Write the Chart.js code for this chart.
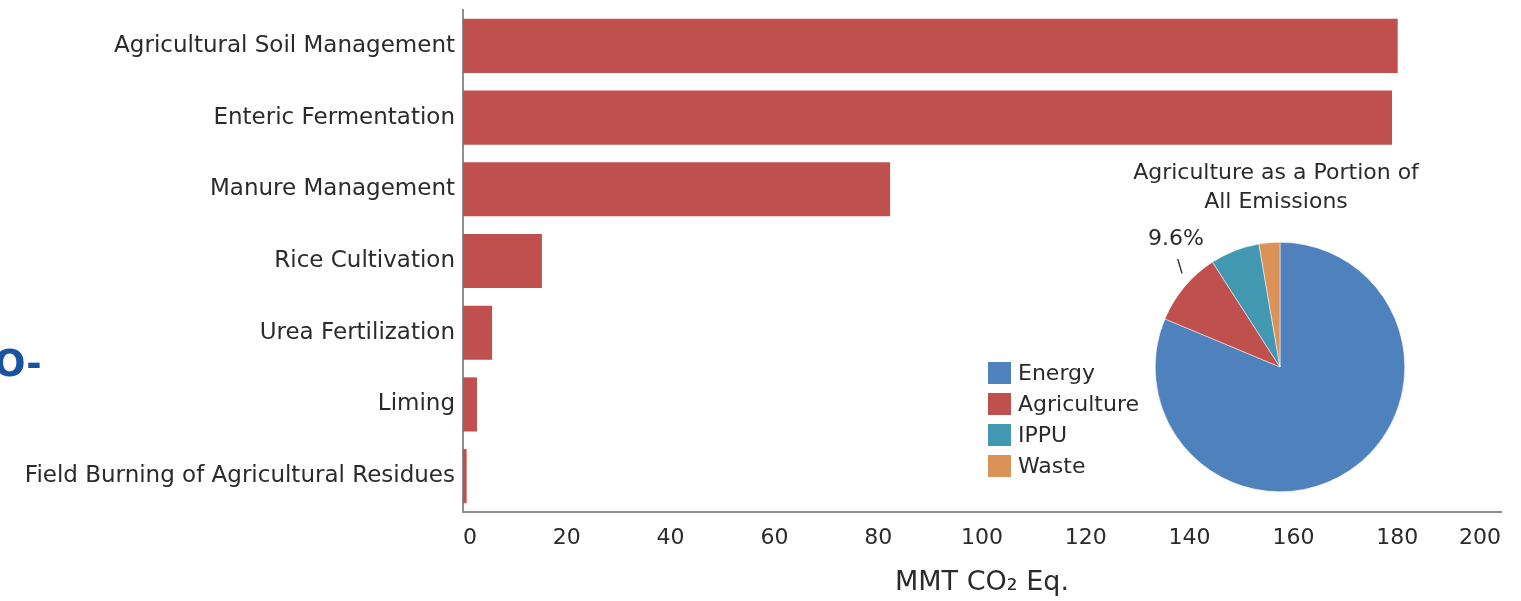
<!DOCTYPE html>
<html>
<head>
<meta charset="utf-8">
<script src="https://cdn.jsdelivr.net/npm/chart.js@4.4.1/dist/chart.umd.min.js"></script>
<style>
  html, body { margin: 0; padding: 0; background: #fff; overflow: hidden; }
  #wrap { position: relative; width: 1521px; height: 601px; font-family: "DejaVu Sans", Verdana, sans-serif; color: #2b2b2b; }
  #bars { position: absolute; left: 0; top: 0; }
  #pie { position: absolute; left: 1155px; top: 242px; }
  .txt { position: absolute; white-space: nowrap; }
  #side { left: -6px; top: 341px; font-size: 37px; line-height: 46px; font-weight: bold; color: #1a52a2; font-family: "DejaVu Sans", sans-serif; }
  #pieTitle { left: 1076px; top: 157px; width: 400px; text-align: center; font-size: 22px; line-height: 29px; }
  #pieLabel { left: 1148px; top: 225px; font-size: 22px; line-height: 26px; }
  #pieTick { left: 1177px; top: 256px; font-size: 17px; }
  #legend { left: 988px; top: 357px; font-size: 22px; }
  .item { display: flex; align-items: center; height: 31px; }
  .sw { width: 23px; height: 22px; margin-right: 7px; }
</style>
</head>
<body>
<div id="wrap">
  <canvas id="bars" width="1521" height="601"></canvas>
  <canvas id="pie" width="250" height="250"></canvas>
  <div class="txt" id="side">O-</div>
  <div class="txt" id="pieTitle"></div>
  <div class="txt" id="pieLabel"></div>
  <div class="txt" id="pieTick">\</div>
  <div class="txt" id="legend"></div>
</div>
<script>
// Agricultural emission sources, MMT CO2 Eq.
const categories = [
  'Agricultural Soil Management',
  'Enteric Fermentation',
  'Manure Management',
  'Rice Cultivation',
  'Urea Fertilization',
  'Liming',
  'Field Burning of Agricultural Residues'
];
const emissions = [180.1, 179.0, 82.3, 15.2, 5.6, 2.7, 0.7];
const xTicks = [0, 20, 40, 60, 80, 100, 120, 140, 160, 180, 200];

// Share of total emissions by sector (percent)
const sectors = ['Energy', 'Agriculture', 'IPPU', 'Waste'];
const sectorShares = [81.3, 9.6, 6.4, 2.7];
const sectorColors = ['#4f81bd', '#c0504d', '#4298b0', '#da9259'];

const pieTitleLines = ['Agriculture as a Portion of', 'All Emissions'];
const axisTitle = 'MMT CO\u2082 Eq.';

const FONT = '"DejaVu Sans", Verdana, sans-serif';
const TEXT = '#2b2b2b';

new Chart(document.getElementById('bars'), {
  type: 'bar',
  data: {
    labels: categories,
    datasets: [{
      data: emissions,
      backgroundColor: '#c0504d',
      borderWidth: 0,
      barPercentage: 0.755,
      categoryPercentage: 1
    }]
  },
  options: {
    indexAxis: 'y',
    responsive: false,
    animation: false,
    layout: { padding: { top: 10, right: 20, left: 0, bottom: 0 } },
    plugins: { legend: { display: false }, tooltip: { enabled: false } },
    scales: {
      x: {
        min: 0,
        max: 200,
        afterBuildTicks: s => { s.ticks = xTicks.map(v => ({ value: v })); },
        afterFit: s => { s.height = 89; },
        grid: { display: false, drawTicks: false },
        border: { display: true, color: '#8f8f8f', width: 2 },
        ticks: {
          align: 'inner',
          padding: 13,
          color: TEXT,
          font: { family: FONT, size: 22 }
        },
        title: {
          display: true,
          text: axisTitle,
          color: TEXT,
          font: { family: FONT, size: 27 },
          padding: { top: 10, bottom: 2 }
        }
      },
      y: {
        afterFit: s => { s.width = 463; s.paddingTop = 0; s.paddingBottom = 0; },
        grid: { display: false, drawTicks: false },
        border: { display: true, color: '#8f8f8f', width: 2 },
        ticks: {
          padding: 8,
          color: TEXT,
          font: { family: FONT, size: 23 }
        }
      }
    }
  }
});

new Chart(document.getElementById('pie'), {
  type: 'pie',
  data: {
    labels: sectors,
    datasets: [{
      data: sectorShares,
      backgroundColor: sectorColors,
      borderColor: '#ffffff',
      borderWidth: 0.5
    }]
  },
  options: {
    responsive: false,
    animation: false,
    layout: { padding: 0 },
    plugins: { legend: { display: false }, tooltip: { enabled: false } }
  }
});

// Inset title, value label and legend
document.getElementById('pieTitle').innerHTML = pieTitleLines.join('<br>');
document.getElementById('pieLabel').textContent = sectorShares[1].toFixed(1) + '%';
const legendEl = document.getElementById('legend');
sectors.forEach((name, i) => {
  const row = document.createElement('div');
  row.className = 'item';
  const sw = document.createElement('span');
  sw.className = 'sw';
  sw.style.background = sectorColors[i];
  const label = document.createElement('span');
  label.textContent = name;
  row.appendChild(sw);
  row.appendChild(label);
  legendEl.appendChild(row);
});
</script>
</body>
</html>
